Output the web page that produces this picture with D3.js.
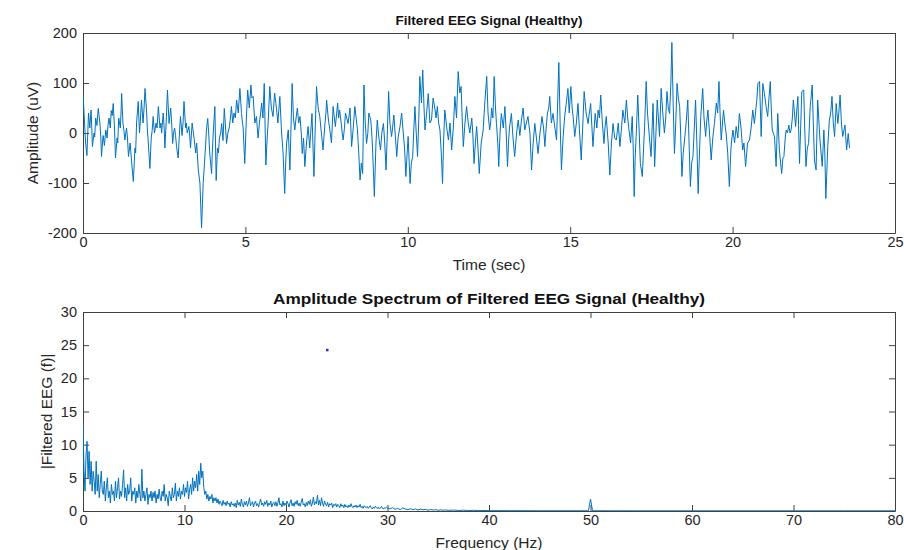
<!DOCTYPE html>
<html>
<head>
<meta charset="utf-8">
<script src="https://cdn.jsdelivr.net/npm/d3@7.9.0/dist/d3.min.js"></script>
<style>
  body { margin: 0; background: #fff; }
  svg { font-family: "Liberation Sans", Arial, Helvetica, sans-serif; }
  .axis path, .axis line { stroke: #404040; }
  .axis text { fill: #262626; font-size: 14.5px; }
</style>
</head>
<body>
<svg id="chart" width="904" height="550"></svg>
<script>
// Tick values for both panels
const timeTicks = [0, 5, 10, 15, 20, 25];
const ampTicks = [-200, -100, 0, 100, 200];
const freqTicks = [0, 10, 20, 30, 40, 50, 60, 70, 80];
const specTicks = [0, 5, 10, 15, 20, 25, 30];

// Filtered EEG, [time (sec), amplitude (uV)]
const eegSamples = [
  [0,78],[0.02,55],[0.04,30],[0.08,-20],[0.12,-45],[0.15,5],[0.17,40],[0.21,10],[0.23,30],[0.25,46],[0.27,10],[0.29,-27],[0.34,0],[0.36,-8],[0.39,30],[0.43,15],[0.45,35],[0.47,49],[0.52,20],[0.55,-10],[0.57,-47],[0.6,-20],[0.62,-5],[0.66,-25],[0.7,6],[0.72,0],[0.74,-10],[0.77,15],[0.8,30],[0.84,10],[0.87,45],[0.9,35],[0.93,59],[0.97,10],
  [1.0,-50],[1.05,-10],[1.07,-20],[1.1,30],[1.15,10],[1.17,40],[1.19,79],[1.23,20],[1.26,5],[1.29,-14],[1.34,10],[1.37,-10],[1.4,-47],[1.45,-20],[1.5,-60],[1.55,-97],[1.6,-30],[1.62,-40],[1.65,20],[1.7,63],[1.74,0],[1.77,30],[1.8,66],[1.85,20],[1.88,50],[1.91,89],[1.96,40],[1.98,10],
  [2.01,-20],[2.06,-71],[2.1,-10],[2.13,5],[2.16,33],[2.2,0],[2.25,20],[2.28,10],[2.32,53],[2.37,10],[2.4,20],[2.42,0],[2.47,40],[2.5,10],[2.52,-30],[2.56,20],[2.6,86],[2.65,19],[2.7,50],[2.73,20],[2.76,-21],[2.79,0],[2.82,10],[2.85,-5],[2.88,-27],[2.93,-50],[2.97,0],
  [3.0,33],[3.05,-5],[3.08,20],[3.11,63],[3.16,10],[3.18,20],[3.21,0],[3.26,13],[3.28,0],[3.31,-30],[3.36,20],[3.39,5],[3.42,-11],[3.47,-40],[3.5,-20],[3.55,-74],[3.6,-100],[3.65,-190],[3.7,-101],[3.74,-60],[3.77,-30],[3.8,6],[3.84,29],[3.87,0],[3.9,-40],[3.96,-81],[3.98,-40],
  [4.01,0],[4.06,53],[4.1,-95],[4.14,-30],[4.17,-40],[4.2,-10],[4.24,0],[4.27,19],[4.31,-15],[4.35,49],[4.38,20],[4.42,-21],[4.46,0],[4.5,10],[4.54,30],[4.57,53],[4.61,20],[4.65,40],[4.69,30],[4.73,66],[4.78,40],[4.83,89],[4.88,39],[4.93,10],[4.98,-61],
  [5.03,30],[5.07,86],[5.12,50],[5.17,96],[5.2,70],[5.24,73],[5.29,20],[5.34,33],[5.39,-10],[5.44,26],[5.47,40],[5.5,60],[5.54,30],[5.58,99],[5.63,-64],[5.67,-10],[5.7,20],[5.75,93],[5.8,50],[5.85,33],[5.9,80],[5.94,59],[5.97,40],
  [6.0,20],[6.06,73],[6.11,6],[6.16,-40],[6.21,-121],[6.24,-60],[6.27,-20],[6.32,6],[6.37,-74],[6.44,99],[6.48,30],[6.52,6],[6.56,30],[6.6,50],[6.64,20],[6.68,33],[6.72,0],[6.75,-41],[6.79,-10],[6.83,-67],[6.88,-20],[6.93,13],[6.98,-30],[7.01,0],
  [7.05,39],[7.11,-87],[7.15,10],[7.19,93],[7.24,50],[7.29,33],[7.34,0],[7.39,-34],[7.45,20],[7.48,40],[7.5,66],[7.55,30],[7.6,6],[7.65,-20],[7.7,53],[7.74,30],[7.77,13],[7.84,60],[7.87,30],[7.9,46],[7.95,20],[7.98,0],
  [8.01,-14],[8.05,10],[8.08,40],[8.12,30],[8.16,19],[8.22,50],[8.27,-27],[8.32,10],[8.37,53],[8.41,30],[8.45,6],[8.49,-40],[8.53,-94],[8.57,-60],[8.61,-81],[8.65,96],[8.69,20],[8.73,-21],[8.77,0],[8.8,40],[8.86,26],[8.89,0],[8.92,-40],[8.97,-127],
  [9.02,-20],[9.06,26],[9.11,-10],[9.16,-34],[9.2,0],[9.25,19],[9.29,-20],[9.33,-74],[9.37,0],[9.41,83],[9.45,20],[9.5,-7],[9.53,10],[9.57,36],[9.61,0],[9.66,-47],[9.7,-10],[9.76,13],[9.81,40],[9.86,0],[9.9,-30],[9.94,-87],[9.98,-40],
  [10.01,-7],[10.07,-101],[10.11,-60],[10.15,-47],[10.18,0],[10.22,53],[10.26,0],[10.3,-47],[10.34,30],[10.37,113],[10.42,60],[10.46,126],[10.5,50],[10.53,6],[10.58,40],[10.63,79],[10.68,20],[10.73,26],[10.78,70],[10.84,46],[10.87,30],[10.91,53],[10.95,20],[10.99,6],[11.03,-40],
  [11.07,-101],[11.1,-20],[11.14,46],[11.2,10],[11.25,-14],[11.3,20],[11.35,-34],[11.4,10],[11.45,73],[11.5,30],[11.55,123],[11.6,80],[11.64,93],[11.68,20],[11.71,-27],[11.76,20],[11.81,53],[11.86,20],[11.91,0],[11.97,30],[12.0,0],
  [12.04,-61],[12.08,-20],[12.12,13],[12.16,-30],[12.2,-81],[12.26,-20],[12.32,6],[12.37,60],[12.43,113],[12.47,40],[12.52,6],[12.55,20],[12.58,50],[12.62,30],[12.66,113],[12.7,50],[12.73,19],[12.77,-20],[12.8,-67],[12.84,0],[12.88,39],[12.94,10],[12.99,53],
  [13.03,0],[13.07,-67],[13.1,-20],[13.13,10],[13.19,39],[13.24,-10],[13.29,-47],[13.35,0],[13.4,26],[13.45,-5],[13.5,26],[13.55,50],[13.6,6],[13.65,20],[13.7,33],[13.76,0],[13.81,-74],[13.86,-20],[13.91,19],[13.96,-10],
  [14.01,-41],[14.07,0],[14.1,15],[14.13,33],[14.18,10],[14.22,-27],[14.26,10],[14.3,40],[14.34,50],[14.37,73],[14.42,20],[14.47,39],[14.53,10],[14.58,-14],[14.65,141],[14.69,20],[14.73,-74],[14.78,-10],[14.83,33],[14.88,60],[14.93,89],[14.97,40],
  [15.02,93],[15.06,50],[15.09,33],[15.14,-7],[15.19,20],[15.24,59],[15.29,0],[15.34,-54],[15.39,20],[15.43,83],[15.49,40],[15.55,19],[15.59,40],[15.63,59],[15.67,10],[15.7,-27],[15.77,39],[15.82,10],[15.86,46],[15.9,30],[15.94,76],[15.99,20],
  [16.04,-21],[16.07,10],[16.11,33],[16.17,-20],[16.22,-84],[16.27,-20],[16.32,19],[16.37,-10],[16.42,-14],[16.48,20],[16.53,-27],[16.58,10],[16.62,46],[16.68,20],[16.73,66],[16.77,30],[16.81,6],[16.86,-20],[16.91,33],[16.94,-30],[16.97,-127],[17.0,-50],
  [17.03,-7],[17.08,76],[17.12,10],[17.16,-61],[17.22,-87],[17.26,-30],[17.29,13],[17.34,103],[17.38,40],[17.42,6],[17.49,-47],[17.55,59],[17.6,-67],[17.64,0],[17.68,66],[17.75,-7],[17.8,89],[17.85,40],[17.9,0],[17.94,30],[17.98,83],[18.02,50],
  [18.06,39],[18.1,100],[18.13,181],[18.17,60],[18.21,-41],[18.25,20],[18.29,99],[18.33,70],[18.37,53],[18.4,0],[18.44,-87],[18.48,-40],[18.52,-14],[18.57,20],[18.62,66],[18.66,-20],[18.7,-107],[18.74,-60],[18.78,-47],[18.82,10],[18.86,66],[18.9,-20],[18.94,-121],[18.98,-40],
  [19.02,33],[19.08,89],[19.12,30],[19.17,-7],[19.2,20],[19.24,46],[19.29,0],[19.34,-54],[19.39,-10],[19.44,19],[19.5,60],[19.54,40],[19.58,103],[19.62,30],[19.65,-14],[19.72,46],[19.76,20],[19.8,0],[19.85,-40],[19.9,-107],[19.95,-30],[19.98,-10],
  [20.01,6],[20.06,-20],[20.11,13],[20.16,-10],[20.21,39],[20.26,10],[20.31,-34],[20.35,-20],[20.4,-67],[20.46,-20],[20.52,-14],[20.57,10],[20.62,46],[20.67,19],[20.72,50],[20.75,70],[20.78,99],[20.83,103],[20.88,-7],[20.93,99],[20.98,79],
  [21.03,53],[21.08,33],[21.12,70],[21.16,103],[21.19,50],[21.22,6],[21.29,-7],[21.34,-67],[21.39,39],[21.44,-34],[21.51,-81],[21.55,-50],[21.58,-47],[21.62,-10],[21.65,6],[21.69,0],[21.73,16],[21.77,0],[21.8,6],[21.84,30],[21.87,66],[21.94,13],[21.97,40],
  [22.01,73],[22.06,-61],[22.1,20],[22.13,83],[22.19,86],[22.22,10],[22.26,-67],[22.3,-30],[22.34,-21],[22.39,53],[22.45,96],[22.49,10],[22.52,-54],[22.57,-74],[22.62,66],[22.66,20],[22.69,-14],[22.76,-67],[22.81,6],[22.84,-40],[22.87,-131],[22.93,-27],[22.98,26],[23.02,40],
  [23.06,73],[23.1,20],[23.14,-7],[23.19,59],[23.24,19],[23.27,40],[23.31,76],[23.35,20],[23.39,-7],[23.46,16],[23.51,-34],[23.56,-1],[23.6,-30]
];

// Amplitude spectrum, 0.1 Hz bins from 0 to 29.9 Hz (one row per Hz)
const specLowAmp = [
  13.5, 6, 3, 8.5, 10.5, 5, 9, 4, 7.5, 3,
  6, 4.5, 2.5, 7.5, 3, 5.5, 2, 4, 6, 3,
  2.5, 4.5, 1.5, 3.5, 5, 2, 3, 1.2, 4, 2.5,
  3, 1.5, 4.5, 2, 3.5, 5, 1.8, 3, 2.2, 4,
  6.2, 2, 3.5, 1.5, 4, 2.5, 3, 5, 1.5, 3,
  2.5, 3.5, 1.2, 3, 2, 4, 2.5, 1.5, 6.3, 2,
  3, 1.5, 2.5, 3.5, 1, 2.5, 2, 3, 1.5, 2.8,
  2, 3, 1.2, 2.5, 1.8, 3.3, 2, 1.5, 3, 2.2,
  4, 1.5, 2.5, 2, 0.8, 3, 2.2, 1.5, 3.5, 2,
  2.5, 4.2, 1.5, 3, 2.2, 3.5, 1.8, 3, 2.5, 4,
  2.2, 3.5, 2.8, 4.5, 1.8, 3.2, 4, 2.5, 5, 3,
  4.5, 3.5, 5.5, 3, 6, 4, 7.2, 5, 6, 3.5,
  2.5, 3, 1.8, 2.5, 1.5, 2.2, 1.8, 2.5, 1.2, 2,
  1.5, 2, 1.2, 1.8, 1, 1.5, 1.2, 0.8, 1.6, 1,
  1.3, 0.8, 1.5, 1, 1.2, 0.6, 1.4, 0.9, 1.1, 0.7,
  1.2, 0.5, 1.6, 0.9, 1.3, 0.7, 1.8, 1, 0.6, 1.4,
  0.9, 1.5, 0.7, 1.2, 2, 0.8, 1.1, 1.4, 0.6, 1.2,
  1.5, 0.8, 1.1, 0.6, 1.3, 1.8, 0.9, 1.2, 0.7, 1.4,
  1, 1.6, 0.7, 1.2, 0.9, 1.5, 0.6, 1.1, 1.3, 0.8,
  1.4, 0.7, 1.2, 2, 0.9, 1.1, 0.6, 1.5, 0.8, 1.2,
  0.9, 1.5, 1.1, 0.6, 1.3, 1.7, 0.8, 1.2, 0.7, 1.4,
  1, 1.6, 0.8, 1.2, 0.7, 1.3, 1.9, 0.9, 1.1, 0.6,
  1.3, 0.8, 1.5, 1, 1.7, 0.7, 1.2, 2.1, 0.9, 1.4,
  1.1, 2.4, 0.9, 1.6, 0.8, 2, 1.2, 0.7, 1.5, 1,
  0.8, 1.3, 0.6, 1.1, 0.9, 1.2, 0.5, 1, 0.8, 1.1,
  0.6, 1, 0.8, 0.5, 1.1, 0.7, 0.9, 0.5, 1, 0.6,
  0.8, 0.5, 0.9, 0.6, 1.1, 0.7, 0.5, 0.8, 0.6, 0.9,
  0.5, 0.8, 0.6, 1, 0.5, 0.7, 0.4, 0.8, 0.6, 0.5,
  0.7, 0.4, 0.6, 0.8, 0.5, 0.3, 0.6, 0.4, 0.7, 0.5,
  0.4, 0.6, 0.3, 0.5, 0.7, 0.4, 0.3, 0.5, 0.4, 0.6
];

// Spectrum tail above 30 Hz (incl. the 50 Hz line-noise spike)
const specTailFreq = [30, 30.25, 30.5, 30.75, 31, 31.25, 31.5, 31.75, 32, 32.25, 32.5, 32.75, 33, 33.25, 33.5, 33.75,
  34, 34.25, 34.5, 34.75, 35, 35.25, 35.5, 35.75, 36, 36.5, 37, 37.5, 38, 38.5, 39, 39.5, 40, 42, 45,
  49.8, 50, 50.2, 55, 60, 65, 70, 75, 80];
const specTailAmp = [0.45, 0.3, 0.5, 0.25, 0.4, 0.2, 0.45, 0.3, 0.2, 0.35, 0.2, 0.3, 0.15, 0.28, 0.18, 0.25,
  0.12, 0.22, 0.15, 0.2, 0.1, 0.18, 0.12, 0.16, 0.1, 0.14, 0.08, 0.12, 0.07, 0.1, 0.06, 0.08, 0.05, 0.05, 0.04,
  0.04, 1.8, 0.04, 0.03, 0.03, 0.03, 0.03, 0.03, 0.03];

// stray data-cursor dot in the spectrum panel
const markerPoint = [24.04, 24.3];

const lineColor = "#0072BD";
const svg = d3.select("#chart");
const plainNum = d => String(d); // hyphen minus, like MATLAB

// Draws one MATLAB-style boxed panel and returns its scales
function drawPanel(p) {
  const x = d3.scaleLinear().domain(p.xDomain).range([p.left, p.right]);
  const y = d3.scaleLinear().domain(p.yDomain).range([p.bottom, p.top]);
  const tick = 6;

  // bottom + left axes carry the labels, ticks point inward
  svg.append("g").attr("class", "axis")
    .attr("transform", `translate(0,${p.bottom})`)
    .call(d3.axisBottom(x).tickValues(p.xTicks).tickFormat(plainNum)
      .tickSizeInner(-tick).tickSizeOuter(0).tickPadding(4));
  svg.append("g").attr("class", "axis")
    .attr("transform", `translate(${p.left},0)`)
    .call(d3.axisLeft(y).tickValues(p.yTicks).tickFormat(plainNum)
      .tickSizeInner(-tick).tickSizeOuter(0).tickPadding(6));
  // top + right close the box
  svg.append("g").attr("class", "axis")
    .attr("transform", `translate(0,${p.top})`)
    .call(d3.axisTop(x).tickValues(p.xTicks).tickSizeInner(-tick).tickSizeOuter(0).tickFormat(""));
  svg.append("g").attr("class", "axis")
    .attr("transform", `translate(${p.right},0)`)
    .call(d3.axisRight(y).tickValues(p.yTicks).tickSizeInner(-tick).tickSizeOuter(0).tickFormat(""));

  svg.selectAll(".axis path").attr("stroke-width", 1);

  // clip the data to the box
  svg.append("clipPath").attr("id", p.id)
    .append("rect")
    .attr("x", p.left).attr("y", p.top)
    .attr("width", p.right - p.left).attr("height", p.bottom - p.top);

  // title and axis labels
  const cx = (p.left + p.right) / 2;
  const title = svg.append("text")
    .attr("x", cx).attr("y", p.top - 8)
    .attr("text-anchor", "middle")
    .attr("font-weight", "bold").attr("font-size", p.titleSize).attr("fill", "#111")
    .text(p.title);
  if (p.titleLength) {
    title.attr("textLength", p.titleLength).attr("lengthAdjust", "spacingAndGlyphs");
  }
  svg.append("text")
    .attr("x", cx).attr("y", p.bottom + 37)
    .attr("text-anchor", "middle")
    .attr("font-size", "15.5px").attr("fill", "#262626")
    .text(p.xLabel);
  svg.append("text")
    .attr("transform", `translate(${p.yLabelX},${(p.top + p.bottom) / 2}) rotate(-90)`)
    .attr("text-anchor", "middle")
    .attr("font-size", "15.5px").attr("fill", "#262626")
    .text(p.yLabel);

  return { x, y };
}

// ---- top panel: time series ----
const timePanel = drawPanel({
  id: "clipTop", left: 83, right: 895, top: 33, bottom: 233,
  xDomain: [0, 25], yDomain: [-200, 200], xTicks: timeTicks, yTicks: ampTicks,
  title: "Filtered EEG Signal (Healthy)", titleSize: "13.5px", xLabel: "Time (sec)",
  yLabel: "Amplitude (uV)", yLabelX: 38
});

svg.append("path")
  .datum(eegSamples)
  .attr("clip-path", "url(#clipTop)")
  .attr("fill", "none")
  .attr("stroke", lineColor)
  .attr("stroke-width", 1)
  .attr("stroke-linejoin", "round")
  .attr("d", d3.line().x(d => timePanel.x(d[0])).y(d => timePanel.y(d[1])));

// ---- bottom panel: amplitude spectrum ----
const specPanel = drawPanel({
  id: "clipBot", left: 83, right: 895, top: 312, bottom: 511,
  xDomain: [0, 80], yDomain: [0, 30], xTicks: freqTicks, yTicks: specTicks,
  title: "Amplitude Spectrum of Filtered EEG Signal (Healthy)", titleSize: "14px", titleLength: 432,
  xLabel: "Frequency (Hz)", yLabel: "|Filtered EEG (f)|", yLabelX: 52
});

const specData = specLowAmp.map((a, i) => [i * 0.1, a])
  .concat(specTailFreq.map((f, i) => [f, specTailAmp[i]]));

svg.append("path")
  .datum(specData)
  .attr("clip-path", "url(#clipBot)")
  .attr("fill", "none")
  .attr("stroke", lineColor)
  .attr("stroke-width", 1)
  .attr("stroke-linejoin", "round")
  .attr("d", d3.line().x(d => specPanel.x(d[0])).y(d => specPanel.y(d[1])));

svg.append("rect")
  .attr("x", specPanel.x(markerPoint[0]) - 1)
  .attr("y", specPanel.y(markerPoint[1]) - 1)
  .attr("width", 2.5).attr("height", 2.5)
  .attr("fill", "#2a2ad0");
</script>
</body>
</html>
